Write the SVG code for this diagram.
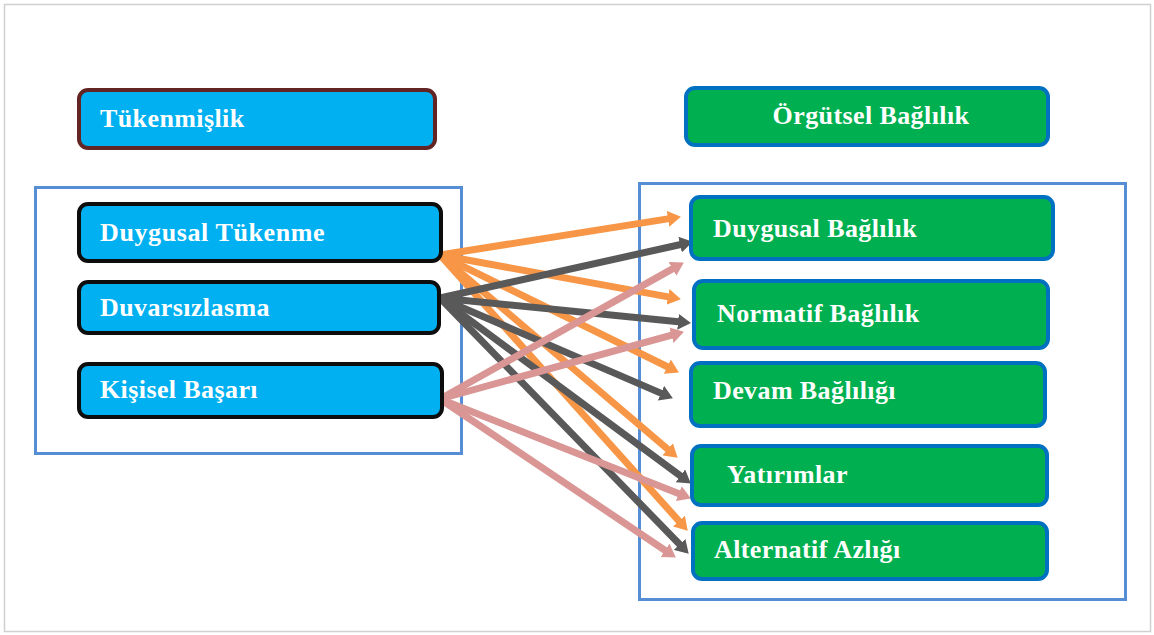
<svg xmlns="http://www.w3.org/2000/svg" width="1154" height="635" viewBox="0 0 1154 635">
<style>
.lbl{font-family:"Liberation Serif","Times New Roman",serif;font-weight:bold;font-size:26px;fill:#ffffff;letter-spacing:0.4px}
.bl{fill:#00b0f0;stroke:#0d0d0d;stroke-width:4}
.gr{fill:#00b050;stroke:#0070c0;stroke-width:4}
.cont{fill:none;stroke:#558ed5;stroke-width:3}
.c{fill:none;stroke-width:7}
.o{stroke:#f79646}
.d{stroke:#595959}
.p{stroke:#d99694}
</style>
<defs>
<marker id="ao" markerUnits="userSpaceOnUse" markerWidth="13" markerHeight="16" viewBox="0 0 13 16" refX="3" refY="8" orient="auto"><path d="M0,0 L13,8 L0,16 z" fill="#f79646"/></marker>
<marker id="ad" markerUnits="userSpaceOnUse" markerWidth="13" markerHeight="16" viewBox="0 0 13 16" refX="3" refY="8" orient="auto"><path d="M0,0 L13,8 L0,16 z" fill="#595959"/></marker>
<marker id="ap" markerUnits="userSpaceOnUse" markerWidth="13" markerHeight="16" viewBox="0 0 13 16" refX="3" refY="8" orient="auto"><path d="M0,0 L13,8 L0,16 z" fill="#d99694"/></marker>
</defs>
<rect x="0" y="0" width="1154" height="635" fill="#ffffff"/>
<rect x="4.5" y="4.5" width="1146" height="627" fill="none" stroke="#d0d0d0" stroke-width="1.5"/>

<rect class="cont" x="35.5" y="187.5" width="426" height="266"/>
<rect class="cont" x="639.5" y="183.5" width="486" height="416"/>

<g id="connectors">
<line class="c o" x1="440" y1="255" x2="671" y2="218.4" marker-end="url(#ao)"/>
<line class="c o" x1="440" y1="255" x2="671" y2="297.4" marker-end="url(#ao)"/>
<line class="c o" x1="440" y1="255" x2="670" y2="368" marker-end="url(#ao)"/>
<line class="c o" x1="440" y1="255" x2="670" y2="451.2" marker-end="url(#ao)"/>
<line class="c o" x1="440" y1="255" x2="681" y2="523.3" marker-end="url(#ao)"/>
<line class="c d" x1="440" y1="298" x2="683" y2="244" marker-end="url(#ad)"/>
<line class="c d" x1="440" y1="298" x2="681" y2="322.1" marker-end="url(#ad)"/>
<line class="c d" x1="440" y1="298" x2="663.7" y2="394.4" marker-end="url(#ad)"/>
<line class="c d" x1="440" y1="298" x2="682.8" y2="477.6" marker-end="url(#ad)"/>
<line class="c d" x1="440" y1="298" x2="681.7" y2="546.5" marker-end="url(#ad)"/>
<line class="c p" x1="440" y1="399" x2="675.1" y2="267.4" marker-end="url(#ap)"/>
<line class="c p" x1="440" y1="399" x2="674.3" y2="334.4" marker-end="url(#ap)"/>
<line class="c p" x1="440" y1="399" x2="681.6" y2="494.7" marker-end="url(#ap)"/>
<line class="c p" x1="440" y1="399" x2="667.5" y2="552" marker-end="url(#ap)"/>
</g>

<g id="tukenmislik">
<rect x="79" y="90" width="356" height="58" rx="9" fill="#00b0f0" stroke="#632523" stroke-width="4"/>
<text class="lbl" x="100" y="127">Tükenmişlik</text>
</g>
<g id="duygusal-tukenme">
<rect class="bl" x="79" y="204" width="362" height="57" rx="9"/>
<text class="lbl" x="100" y="241" style="letter-spacing:0.6px">Duygusal Tükenme</text>
</g>
<g id="duvarsizlasma">
<rect class="bl" x="79" y="282" width="360" height="51" rx="9"/>
<text class="lbl" x="100" y="316">Duvarsızlasma</text>
</g>
<g id="kisisel-basari">
<rect class="bl" x="79" y="364" width="363" height="53" rx="9"/>
<text class="lbl" x="100" y="398">Kişisel Başarı</text>
</g>

<g id="orgutsel-baglilik">
<rect class="gr" x="686" y="88" width="362" height="57" rx="9"/>
<text class="lbl" x="871" y="124" text-anchor="middle">Örgütsel Bağlılık</text>
</g>
<g id="duygusal-baglilik">
<rect class="gr" x="691" y="197" width="362" height="62" rx="9"/>
<text class="lbl" x="713" y="237">Duygusal Bağlılık</text>
</g>
<g id="normatif-baglilik">
<rect class="gr" x="694" y="281" width="354" height="67" rx="9"/>
<text class="lbl" x="717" y="322">Normatif Bağlılık</text>
</g>
<g id="devam-bagliligi">
<rect class="gr" x="691" y="363" width="354" height="63" rx="9"/>
<text class="lbl" x="713" y="399">Devam Bağlılığı</text>
</g>
<g id="yatirimlar">
<rect class="gr" x="692" y="446" width="355" height="59" rx="9"/>
<text class="lbl" x="727" y="483">Yatırımlar</text>
</g>
<g id="alternatif-azligi">
<rect class="gr" x="693" y="523" width="354" height="56" rx="9"/>
<text class="lbl" x="714" y="558">Alternatif Azlığı</text>
</g>
</svg>
